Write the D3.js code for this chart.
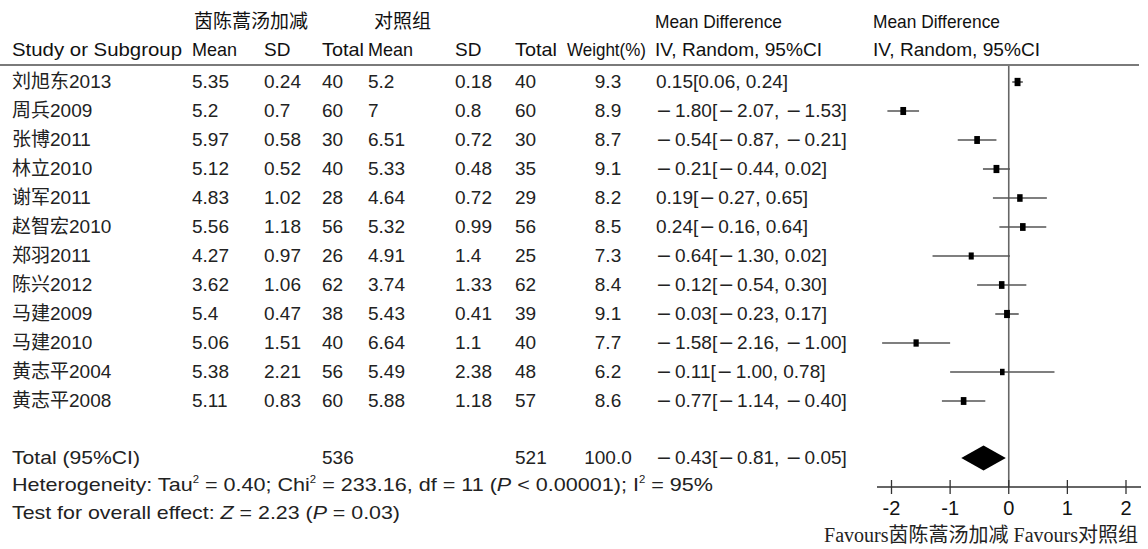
<!DOCTYPE html>
<html>
<head>
<meta charset="utf-8">
<script src="https://cdn.jsdelivr.net/npm/d3@7"></script>
<style>
  html, body { margin: 0; padding: 0; background: #fff; }
  svg { display: block; }
  .hdr { font-family: "Liberation Sans", "Noto Sans CJK SC", sans-serif; font-size: 19px; fill: #111; }
  .cell { font-family: "Liberation Sans", "Noto Sans CJK SC", sans-serif; font-size: 19px; fill: #222; }
  .minus { font-family: "DejaVu Sans", sans-serif; }
  .foot { font-family: "Liberation Sans", "Noto Sans CJK SC", sans-serif; font-size: 19px; fill: #222; }
  .tick-label { font-family: "Liberation Sans", sans-serif; font-size: 20px; fill: #111; }
  .favours { font-family: "Liberation Serif", "Noto Sans CJK SC", serif; font-size: 20px; fill: #222; }
</style>
</head>
<body>
<svg id="chart" width="1148" height="549"></svg>
<script>
// Study rows
const studies = ["刘旭东2013", "周兵2009", "张博2011", "林立2010", "谢军2011", "赵智宏2010",
                 "郑羽2011", "陈兴2012", "马建2009", "马建2010", "黄志平2004", "黄志平2008"];
// Treatment group (茵陈蒿汤加减)
const expMean = [5.35, 5.2, 5.97, 5.12, 4.83, 5.56, 4.27, 3.62, 5.4, 5.06, 5.38, 5.11];
const expSD   = [0.24, 0.7, 0.58, 0.52, 1.02, 1.18, 0.97, 1.06, 0.47, 1.51, 2.21, 0.83];
const expN    = [40, 60, 30, 40, 28, 56, 26, 62, 38, 40, 56, 60];
// Control group (对照组)
const ctlMean = [5.2, 7, 6.51, 5.33, 4.64, 5.32, 4.91, 3.74, 5.43, 6.64, 5.49, 5.88];
const ctlSD   = [0.18, 0.8, 0.72, 0.48, 0.72, 0.99, 1.4, 1.33, 0.41, 1.1, 2.38, 1.18];
const ctlN    = [40, 60, 30, 35, 29, 56, 25, 62, 39, 40, 48, 57];
// Weights and mean differences with 95% CI
const weight  = [9.3, 8.9, 8.7, 9.1, 8.2, 8.5, 7.3, 8.4, 9.1, 7.7, 6.2, 8.6];
const md      = [0.15, -1.80, -0.54, -0.21, 0.19, 0.24, -0.64, -0.12, -0.03, -1.58, -0.11, -0.77];
const ciLow   = [0.06, -2.07, -0.87, -0.44, -0.27, -0.16, -1.30, -0.54, -0.23, -2.16, -1.00, -1.14];
const ciHigh  = [0.24, -1.53, -0.21, 0.02, 0.65, 0.64, 0.02, 0.30, 0.17, -1.00, 0.78, -0.40];
// Pooled estimate
const totalExpN = 536, totalCtlN = 521, totalWeight = 100.0;
const pooled = { md: -0.43, lo: -0.81, hi: -0.05 };
// Axis ticks
const axisTicks = [-2, -1, 0, 1, 2];

const svg = d3.select("#chart");

const fmt2 = d3.format(".2f");
// "−1.80[−2.07, −1.53]" split into pieces so minus signs can use a longer dash
const mdPieces = (m, l, h) => {
  const s = `${fmt2(m)}[${fmt2(l)}, ${fmt2(h)}]`;
  const out = [];
  s.split(/([-\u2212])/).forEach(p => {
    if (p !== "") out.push(p === "-" || p === "\u2212" ? { t: "\u2212", minus: true } : { t: p });
  });
  return out;
};
function writeMD(sel, m, l, h) {
  const pieces = mdPieces(m, l, h);
  pieces.forEach((p, k) => {
    const ts = sel.append("tspan").text(p.t);
    if (p.minus) ts.attr("class", "minus");
    if (p.minus && k > 0) ts.attr("dx", 1);
    if (!p.minus && k > 0 && pieces[k - 1].minus) ts.attr("dx", 3);
  });
}

// Row layout
const rowY = d3.scaleLinear().domain([0, 1]).range([82, 111]);
const totalY = 458;

// Forest plot scale
const x = d3.scaleLinear().domain([-2, 2]).range([891.5, 1126]);
const axisY = 487;

// Column positions
const col = { name: 12, m1: 192, s1: 264, n1: 322, m2: 368, s2: 455, n2: 515, w: 608, md: 656 };

// Header
const hdr = svg.append("g");
const h1 = 28, h2 = 56;
hdr.append("text").attr("class", "hdr").attr("x", 194).attr("y", h1).text("茵陈蒿汤加减");
hdr.append("text").attr("class", "hdr").attr("x", 374).attr("y", h1).text("对照组");
hdr.append("text").attr("class", "hdr").attr("x", 655).attr("y", h1)
  .attr("textLength", 127).attr("lengthAdjust", "spacingAndGlyphs").text("Mean Difference");
hdr.append("text").attr("class", "hdr").attr("x", 873).attr("y", h1)
  .attr("textLength", 127).attr("lengthAdjust", "spacingAndGlyphs").text("Mean Difference");
const h2Items = [
  ["Study or Subgroup", col.name, 170], ["Mean", col.m1, 45], ["SD", col.s1, null], ["Total", col.n1, 42],
  ["Mean", col.m2, 45], ["SD", col.s2, null], ["Total", col.n2, 42], ["Weight(%)", 567, 79],
  ["IV, Random, 95%CI", 655, 167], ["IV, Random, 95%CI", 873, 167]
];
hdr.selectAll("text.h2").data(h2Items).join("text")
  .attr("class", "hdr h2").attr("x", d => d[1]).attr("y", h2)
  .attr("textLength", d => d[2]).attr("lengthAdjust", d => d[2] ? "spacingAndGlyphs" : null)
  .text(d => d[0]);

// Header rule
svg.append("line").attr("x1", 0).attr("x2", 1139).attr("y1", 65).attr("y2", 65)
  .attr("stroke", "#7a7a7a").attr("stroke-width", 2.2);

// Table body
const rows = svg.append("g").selectAll("g").data(studies.map((s, i) => i)).join("g")
  .attr("transform", i => `translate(0,${rowY(i) + 6})`);
const cells = [
  [i => studies[i], col.name, "start"],
  [i => expMean[i], col.m1, "start"], [i => expSD[i], col.s1, "start"], [i => expN[i], col.n1, "start"],
  [i => ctlMean[i], col.m2, "start"], [i => ctlSD[i], col.s2, "start"], [i => ctlN[i], col.n2, "start"],
  [i => weight[i].toFixed(1), col.w, "middle"]
];
cells.forEach(([f, cx, anchor]) => {
  rows.append("text").attr("class", "cell").attr("x", cx).attr("text-anchor", anchor).text(f);
});
rows.append("text").attr("class", "cell").attr("x", col.md)
  .each(function (i) { writeMD(d3.select(this), md[i], ciLow[i], ciHigh[i]); });

// Total row
const tot = svg.append("g").attr("transform", `translate(0,${totalY + 6})`);
tot.append("text").attr("class", "cell").attr("x", col.name)
  .attr("textLength", 128).attr("lengthAdjust", "spacingAndGlyphs").text("Total (95%CI)");
tot.append("text").attr("class", "cell").attr("x", col.n1).text(totalExpN);
tot.append("text").attr("class", "cell").attr("x", col.n2).text(totalCtlN);
tot.append("text").attr("class", "cell").attr("x", col.w).attr("text-anchor", "middle").text(totalWeight.toFixed(1));
tot.append("text").attr("class", "cell").attr("x", col.md)
  .call(sel => writeMD(sel, pooled.md, pooled.lo, pooled.hi));

// Heterogeneity and overall effect lines
const het = svg.append("text").attr("class", "foot").attr("x", col.name).attr("y", 491)
  .attr("textLength", 701).attr("lengthAdjust", "spacingAndGlyphs");
het.append("tspan").text("Heterogeneity: Tau");
het.append("tspan").attr("font-size", 10).attr("dy", -8).text("2");
het.append("tspan").attr("dy", 8).text(" = 0.40; Chi");
het.append("tspan").attr("font-size", 10).attr("dy", -8).text("2");
het.append("tspan").attr("dy", 8).text(" = 233.16, df = 11 (");
het.append("tspan").attr("font-style", "italic").text("P");
het.append("tspan").text(" < 0.00001); I");
het.append("tspan").attr("font-size", 10).attr("dy", -8).text("2");
het.append("tspan").attr("dy", 8).text(" = 95%");

const ovr = svg.append("text").attr("class", "foot").attr("x", col.name).attr("y", 519)
  .attr("textLength", 388).attr("lengthAdjust", "spacingAndGlyphs");
ovr.append("tspan").text("Test for overall effect: ");
ovr.append("tspan").attr("font-style", "italic").text("Z");
ovr.append("tspan").text(" = 2.23 (");
ovr.append("tspan").attr("font-style", "italic").text("P");
ovr.append("tspan").text(" = 0.03)");

// Forest plot: line of no effect
svg.append("line").attr("x1", x(0)).attr("x2", x(0)).attr("y1", 66).attr("y2", axisY)
  .attr("stroke", "#666").attr("stroke-width", 1.6);

// Confidence intervals and point estimates
const plot = svg.append("g");
plot.selectAll("line.ci").data(studies.map((s, i) => i)).join("line")
  .attr("class", "ci")
  .attr("x1", i => x(ciLow[i])).attr("x2", i => x(ciHigh[i]))
  .attr("y1", i => rowY(i)).attr("y2", i => rowY(i))
  .attr("stroke", "#555").attr("stroke-width", 1.6);
const boxW = d3.scaleLinear().domain([6, 9.5]).range([4.5, 6]);
plot.selectAll("rect.est").data(studies.map((s, i) => i)).join("rect")
  .attr("class", "est")
  .attr("x", i => x(md[i]) - boxW(weight[i]) / 2)
  .attr("y", i => rowY(i) - boxW(weight[i]) * 0.7)
  .attr("width", i => boxW(weight[i]))
  .attr("height", i => boxW(weight[i]) * 1.4)
  .attr("fill", "#000");

// Pooled diamond
plot.append("path")
  .attr("d", `M${x(pooled.lo)},${totalY} L${x(pooled.md)},${totalY - 12.5} L${x(pooled.hi)},${totalY} L${x(pooled.md)},${totalY + 12.5} Z`)
  .attr("fill", "#000");

// Axis
const ax = svg.append("g");
ax.append("line").attr("x1", 877).attr("x2", 1141).attr("y1", axisY).attr("y2", axisY)
  .attr("stroke", "#333").attr("stroke-width", 1.3);
ax.selectAll("line.tk").data(axisTicks).join("line").attr("class", "tk")
  .attr("x1", d => x(d)).attr("x2", d => x(d)).attr("y1", axisY - 7).attr("y2", axisY + 7)
  .attr("stroke", "#333").attr("stroke-width", 1.3);
ax.selectAll("text").data(axisTicks).join("text").attr("class", "tick-label")
  .attr("x", d => x(d)).attr("y", 515).attr("text-anchor", "middle").text(d => d);

svg.append("text").attr("class", "favours").attr("x", 1138).attr("y", 542)
  .attr("text-anchor", "end").text("Favours茵陈蒿汤加减  Favours对照组");
</script>
</body>
</html>
